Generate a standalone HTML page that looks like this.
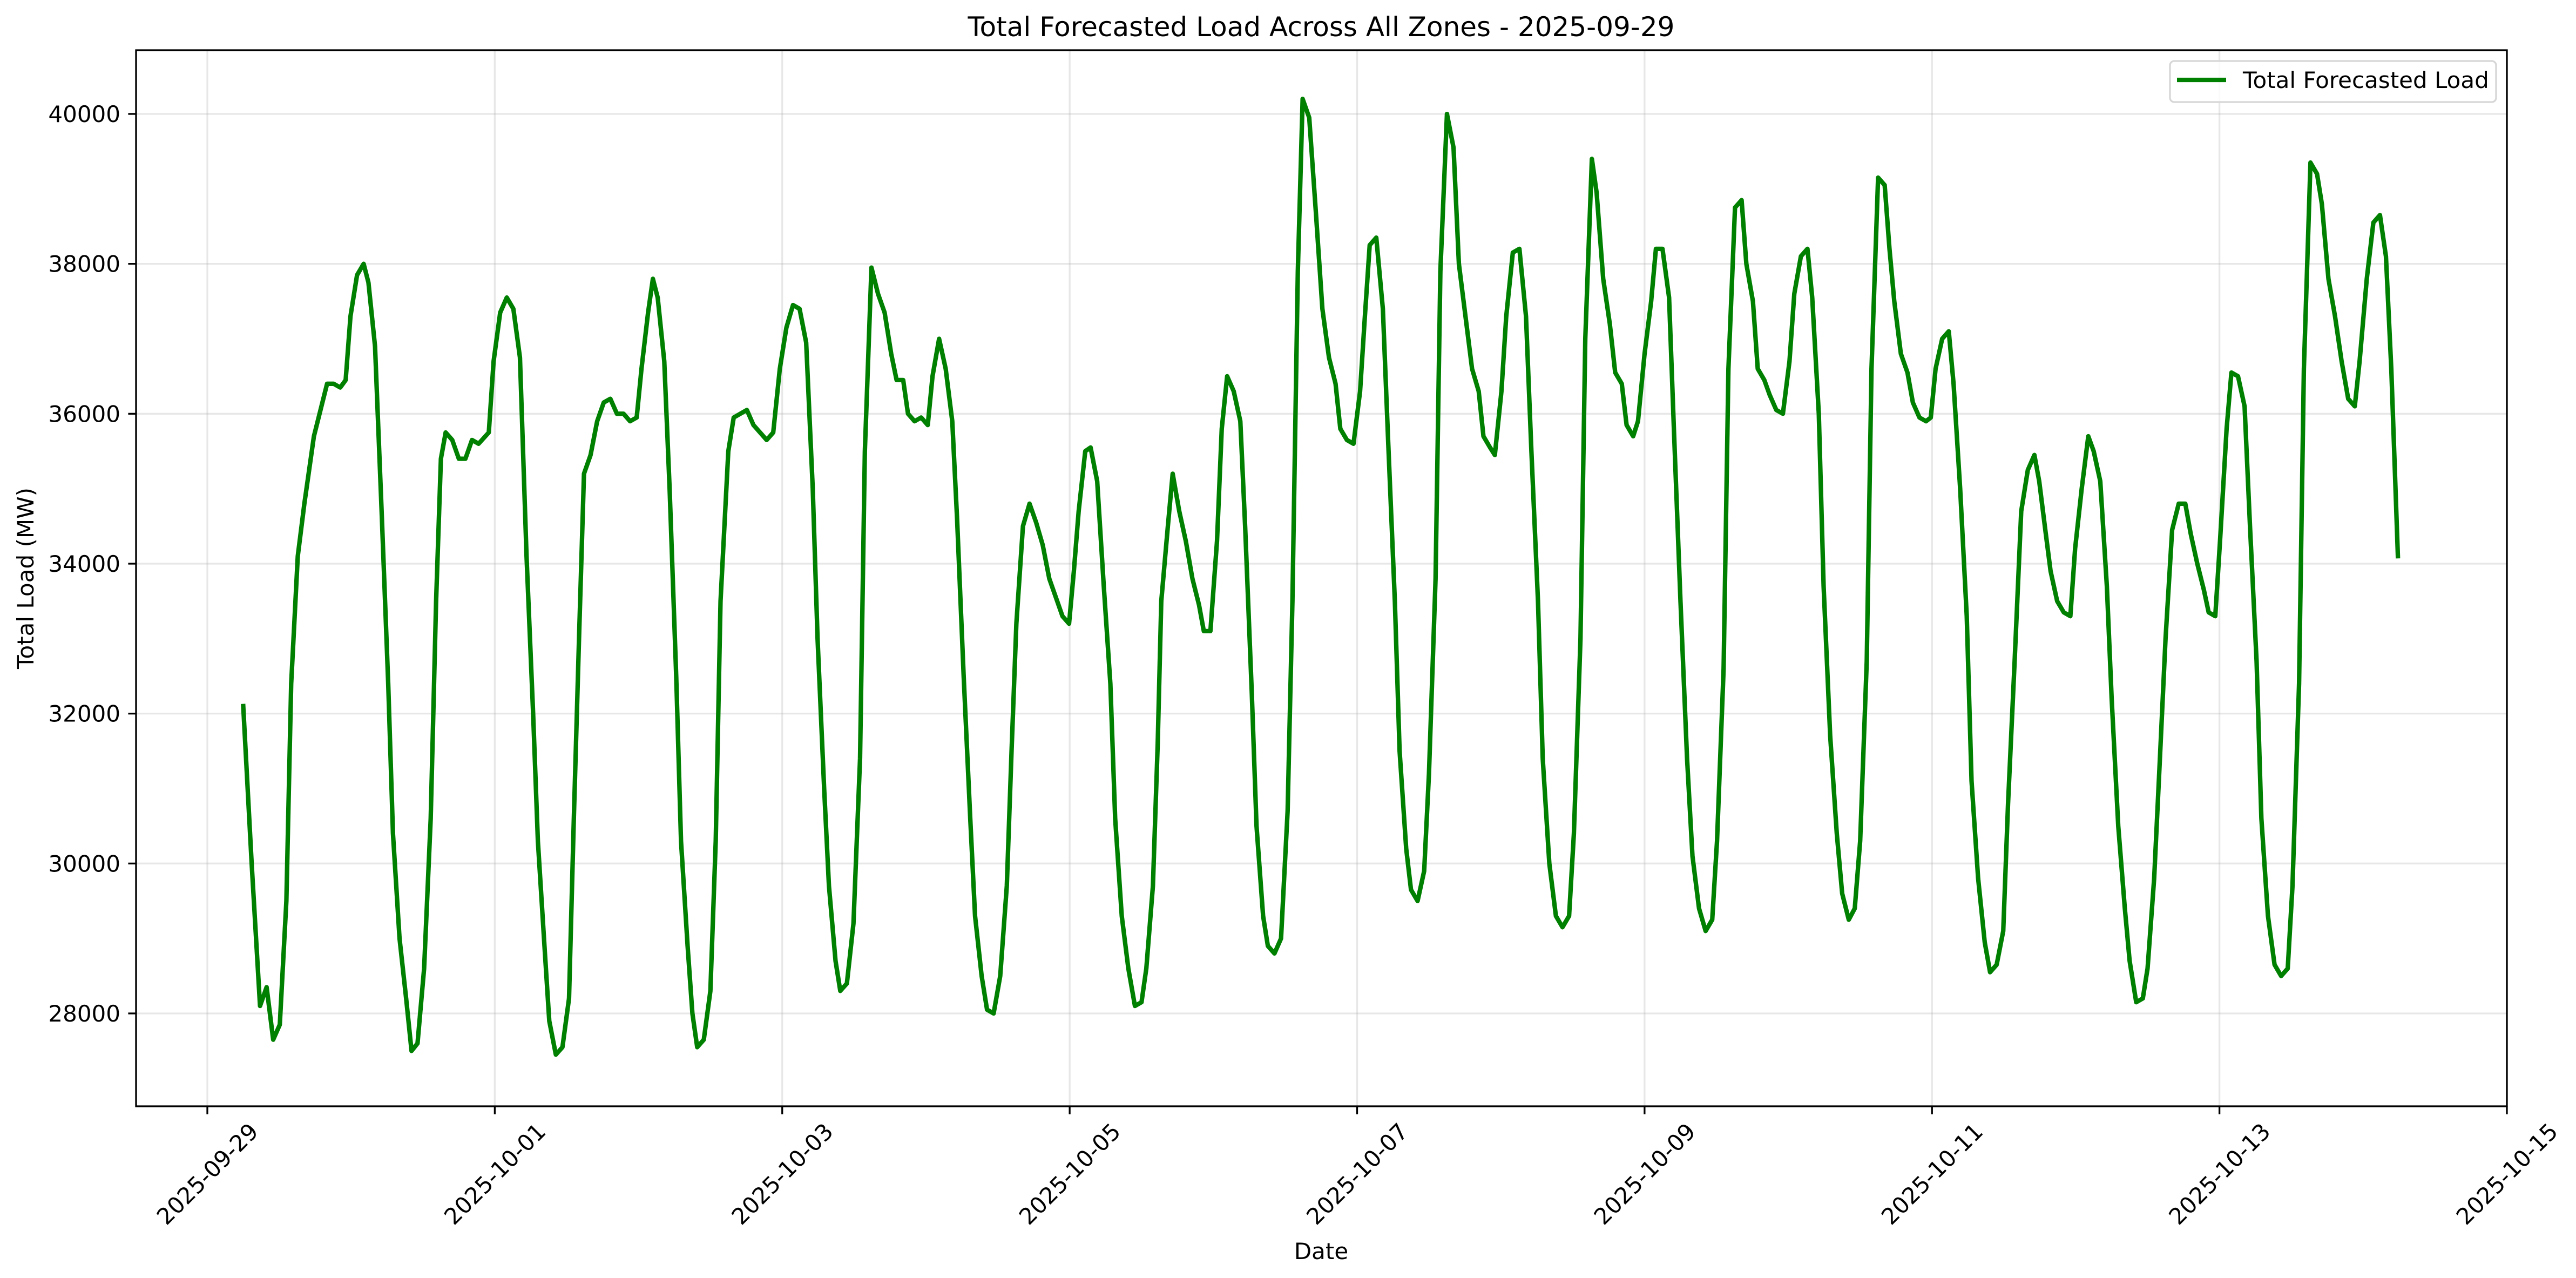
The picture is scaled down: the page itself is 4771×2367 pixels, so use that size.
<!DOCTYPE html>
<html><head><meta charset="utf-8"><style>html,body{margin:0;padding:0;background:#fff}svg{display:block}text{font-family:"DejaVu Sans","Liberation Sans",sans-serif;fill:#000}</style></head>
<body>
<svg id="chart" width="4771" height="2367" viewBox="0 0 4771 2367" xmlns="http://www.w3.org/2000/svg">
<rect width="4771" height="2367" fill="#fff"/>
<g id="grid"></g>
<g id="series"></g>
<rect x="252" y="93" width="4391" height="1956" fill="none" stroke="#000" stroke-width="3.3"/>
<g id="axes"></g>
<text x="2447" y="67" font-size="50" text-anchor="middle">Total Forecasted Load Across All Zones - 2025-09-29</text>
<text x="2447" y="2332" font-size="42" text-anchor="middle">Date</text>
<text x="62" y="1071" font-size="42" text-anchor="middle" transform="rotate(-90 62 1071)">Total Load (MW)</text>
<g>
<rect x="4019" y="113" width="604" height="76" rx="8" fill="#fff" fill-opacity="0.8" stroke="#d6d6d6" stroke-width="3.3"/>
<line x1="4032" y1="148" x2="4123" y2="148" stroke="#008000" stroke-width="8.3"/>
<text x="4154" y="163" font-size="42">Total Forecasted Load</text>
</g>
</svg>
<script>
const hours=[6.0,7.4,8.8,9.9,11.0,12.1,13.2,14.0,15.1,16.2,17.8,20.0,21.1,22.2,23.1,23.9,25.0,26.1,26.9,28.0,29.1,30.2,31.0,32.1,33.2,34.1,35.1,36.2,37.3,38.2,39.0,39.8,40.9,42.0,43.1,44.2,45.3,47.0,47.8,48.9,50.0,51.1,52.2,53.3,54.4,55.2,56.3,57.1,58.2,59.3,60.4,61.2,62.1,62.9,64.0,65.1,66.2,67.3,68.4,69.5,70.6,71.7,72.5,73.6,74.4,75.2,76.3,77.2,78.3,79.1,80.2,81.0,81.8,82.9,84.0,84.9,85.7,87.0,87.9,89.0,90.1,91.2,92.3,93.4,94.5,95.6,96.7,97.8,98.9,100.0,101.1,101.9,103.0,103.8,104.9,105.7,106.8,107.9,109.0,109.8,110.9,112.0,113.1,114.2,115.1,116.2,117.0,118.1,119.2,120.3,121.1,122.2,123.3,124.4,125.2,126.3,127.4,128.2,129.3,130.2,131.3,132.4,133.5,134.3,135.1,136.2,137.3,138.4,139.5,140.6,141.7,142.8,143.9,144.7,145.5,146.6,147.5,148.6,149.7,150.8,151.6,152.7,153.8,154.9,156.0,156.8,157.9,158.7,159.3,160.4,161.2,162.3,163.4,164.5,165.6,166.4,167.5,168.6,169.4,170.3,171.4,172.5,173.3,174.4,175.2,176.3,177.1,178.2,179.3,180.4,181.2,182.1,182.9,184.0,185.1,186.2,187.3,188.4,189.2,190.3,191.4,192.5,193.3,194.1,195.2,196.3,197.2,198.3,199.1,200.2,201.0,202.1,203.2,204.0,205.1,205.9,207.0,208.1,209.0,210.1,211.2,212.3,213.1,214.2,215.0,216.1,216.9,218.0,219.1,220.2,221.1,222.2,223.0,224.1,225.2,226.3,227.4,228.2,229.3,230.1,231.2,232.0,233.1,234.2,235.1,236.2,237.0,238.1,238.9,240.0,241.1,241.9,243.0,244.1,244.9,246.0,247.1,248.0,249.1,250.2,251.3,252.1,253.2,254.0,255.1,256.2,257.0,258.1,258.9,260.0,260.9,262.0,263.1,264.2,265.0,266.1,267.2,268.0,269.1,269.9,271.0,272.1,273.0,274.1,275.1,276.0,277.1,277.9,279.0,280.1,280.9,281.7,282.8,283.9,284.8,285.9,287.0,287.8,288.6,289.7,290.8,291.6,292.7,293.8,294.6,295.7,296.8,297.7,298.8,299.9,300.7,301.8,302.9,304.0,305.1,305.9,307.0,307.8,308.9,310.0,311.1,311.9,313.0,314.1,315.0,316.1,317.2,318.0,319.1,320.2,321.0,322.1,323.2,324.0,325.1,326.0,327.0,328.1,329.2,330.3,331.2,332.3,333.4,334.2,335.3,336.1,337.2,338.0,339.1,340.2,341.1,342.2,343.0,344.1,345.2,346.3,347.4,348.2,349.3,350.1,351.2,352.3,353.1,354.2,355.3,356.4,357.5,358.6,359.4,360.6,361.7,362.8,363.8,364.7,365.8];
const loads=[32100,30000,28100,28350,27650,27850,29500,32400,34100,34800,35700,36400,36400,36350,36450,37300,37850,38000,37750,36900,34700,32400,30400,29000,28200,27500,27600,28600,30600,33500,35400,35750,35650,35400,35400,35650,35600,35750,36700,37350,37550,37400,36750,34100,32000,30300,28900,27900,27450,27550,28200,30600,33100,35200,35450,35900,36150,36200,36000,36000,35900,35950,36600,37350,37800,37550,36700,35000,32500,30300,28900,28000,27550,27650,28300,30300,33500,35500,35950,36000,36050,35850,35750,35650,35750,36600,37150,37450,37400,36950,35000,33000,31000,29700,28700,28300,28400,29200,31400,35500,37950,37600,37350,36800,36450,36450,36000,35900,35950,35850,36500,37000,36600,35900,34600,32500,30600,29300,28500,28050,28000,28500,29700,31500,33200,34500,34800,34550,34250,33800,33550,33300,33200,33900,34700,35500,35550,35100,33700,32400,30600,29300,28600,28100,28150,28600,29700,31600,33500,34500,35200,34700,34300,33800,33450,33100,33100,34300,35800,36500,36300,35900,34500,32300,30500,29300,28900,28800,29000,30700,33500,37900,40200,39950,38700,37400,36750,36400,35800,35650,35600,36300,37300,38250,38350,37400,35600,33500,31500,30200,29650,29500,29900,31200,33800,37900,40000,39550,38000,37300,36600,36300,35700,35550,35450,36300,37300,38150,38200,37300,35500,33500,31400,30000,29300,29150,29300,30400,33000,37000,39400,38950,37800,37200,36550,36400,35850,35700,35900,36800,37500,38200,38200,37550,35800,33500,31400,30100,29400,29100,29250,30300,32600,36600,38750,38850,38000,37500,36600,36450,36250,36050,36000,36700,37600,38100,38200,37550,36000,33700,31700,30400,29600,29250,29400,30300,32700,36600,39150,39050,38200,37500,36800,36550,36150,35950,35900,35950,36600,37000,37100,36400,35000,33300,31100,29800,28950,28550,28650,29100,30800,32700,34700,35250,35450,35100,34400,33900,33500,33350,33300,34200,35000,35700,35500,35100,33700,32200,30500,29400,28700,28150,28200,28600,29800,31300,33000,34450,34800,34800,34400,34000,33650,33350,33300,34300,35800,36550,36500,36100,34500,32700,30600,29300,28650,28500,28600,29700,32400,36600,39350,39200,38800,37800,37300,36700,36200,36100,36700,37800,38550,38650,38100,36600,34100];
const yTicks=[28000,30000,32000,34000,36000,38000,40000];
const xTickLabels=["2025-09-29","2025-10-01","2025-10-03","2025-10-05","2025-10-07","2025-10-09","2025-10-11","2025-10-13","2025-10-15"];
const xTickDays=[0,2,4,6,8,10,12,14,16];

const NS="http://www.w3.org/2000/svg";
const L=252,R=4643,T=93,B=2049;
const X0=384,PXDAY=(R-X0)/16;
const yMin=26761,yMax=40850;
function xs(h){return X0+h/24*PXDAY;}
function ys(v){return B-(v-yMin)/(yMax-yMin)*(B-T);}
function mk(tag,attrs,parent){const e=document.createElementNS(NS,tag);for(const k in attrs)e.setAttribute(k,attrs[k]);parent.appendChild(e);return e;}
const grid=document.getElementById('grid'),axes=document.getElementById('axes'),series=document.getElementById('series');
yTicks.forEach(v=>{
  const y=ys(v);
  const g=mk('line',{x1:L,x2:R,y1:y,y2:y,stroke:'#b0b0b0','stroke-opacity':0.3,'stroke-width':3.3},grid);
  
  
  const t=mk('line',{x1:L-14.6,x2:L,y1:y,y2:y,stroke:'#000','stroke-width':3.3},axes);
  
  
  const tx=mk('text',{x:L-29,y:y+15,'font-size':42,'text-anchor':'end'},axes);
  
  
  tx.textContent=String(v);
});
xTickDays.forEach((d,i)=>{
  const x=xs(d*24);
  const g=mk('line',{x1:x,x2:x,y1:T,y2:B,stroke:'#b0b0b0','stroke-opacity':0.3,'stroke-width':3.3},grid);
  
  
  const t=mk('line',{x1:x,x2:x,y1:B,y2:B+14.6,stroke:'#000','stroke-width':3.3},axes);
  
  
  const cy=2174;
  const tx=mk('text',{x:x,y:cy+15,'font-size':42,'text-anchor':'middle',transform:`rotate(-45 ${x} ${cy})`},axes);
  
  
  tx.textContent=xTickLabels[i];
});
const pts=hours.map((h,i)=>xs(h).toFixed(1)+','+ys(loads[i]).toFixed(1)).join(' ');
const pl=mk('polyline',{points:pts,fill:'none',stroke:'#008000','stroke-width':8.3,'stroke-linejoin':'round','stroke-linecap':'square'},series);


</script>
</body></html>
